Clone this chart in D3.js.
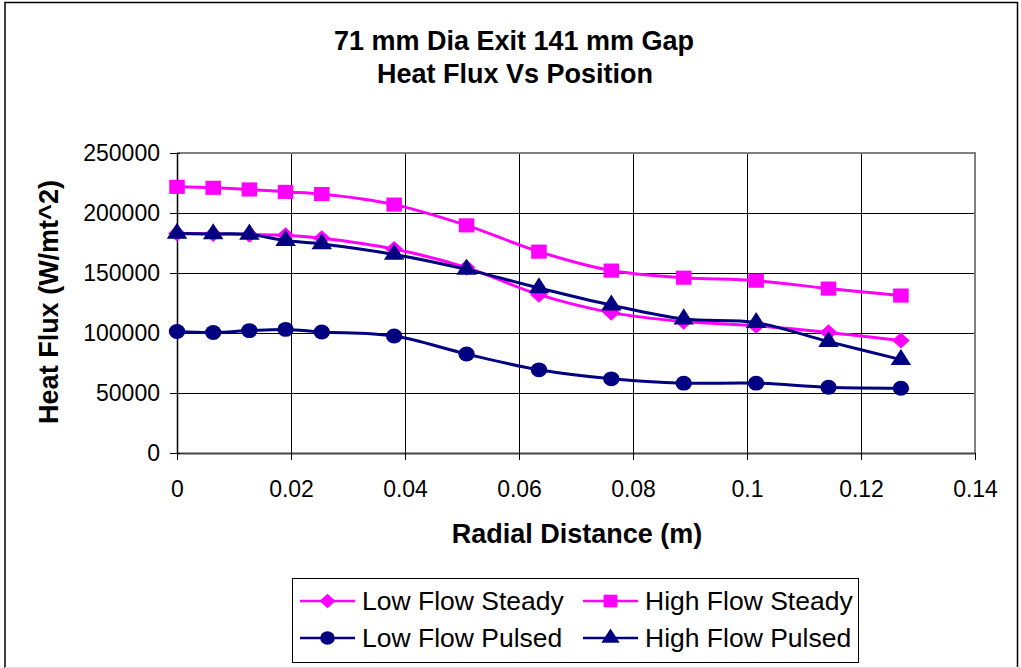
<!DOCTYPE html>
<html>
<head>
<meta charset="utf-8">
<script src="https://cdn.jsdelivr.net/npm/d3@7"></script>
<style>
  body { margin: 0; background: #fff; }
  svg { display: block; font-family: "Liberation Sans", Arial, sans-serif; }
</style>
</head>
<body>
<div id="chart"></div>
<script>
// chart data
const positions = [0, 0.00635, 0.0127, 0.01905, 0.0254, 0.0381, 0.0508, 0.0635, 0.0762, 0.0889, 0.1016, 0.1143, 0.127];
const lowFlowSteady = [183000, 182500, 182000, 181500, 179000, 170000, 154500, 132000, 117000, 109500, 106000, 100500, 93800];
const highFlowSteady = [221800, 221000, 219600, 217600, 215800, 207000, 189700, 167800, 152000, 146100, 143600, 137000, 131200];
const lowFlowPulsed = [101200, 100400, 102000, 103000, 100900, 97500, 82500, 69300, 61800, 58200, 58200, 54800, 54000];
const highFlowPulsed = [183000, 182600, 182200, 177000, 174200, 165500, 153000, 137500, 123200, 111600, 108600, 92800, 77800];
const xTicks = [0, 0.02, 0.04, 0.06, 0.08, 0.1, 0.12, 0.14];
const yTicks = [0, 50000, 100000, 150000, 200000, 250000];

const seriesNames = ['Low Flow Steady', 'High Flow Steady', 'Low Flow Pulsed', 'High Flow Pulsed'];
const seriesColors = ['#ff00ff', '#ff00ff', '#000080', '#000080'];
// diamond = square turned 45 degrees, like the Excel marker
const seriesShapes = [d3.symbolSquare, d3.symbolSquare, d3.symbolCircle, d3.symbolTriangle];
const seriesRotate = [45, 0, 0, 0];
const seriesSizes = [130, 200, 175, 150];
const seriesValues = [lowFlowSteady, highFlowSteady, lowFlowPulsed, highFlowPulsed];

const width = 1021;
const height = 668;

const svg = d3.select('#chart')
    .append('svg')
    .attr('width', width)
    .attr('height', height);

// chart border
svg.append('path')
    .attr('d', 'M5,700 V2.5 H1017.5 V700')
    .attr('fill', 'none')
    .attr('stroke', '#000')
    .attr('stroke-width', 1.5);
svg.append('line')
    .attr('x1', 5).attr('x2', width).attr('y1', 667.5).attr('y2', 667.5)
    .attr('stroke', '#e6e6e6');

// plot area
const plot = { left: 177, top: 153, right: 975, bottom: 453 };

const x = d3.scaleLinear().domain([0, 0.14]).range([plot.left, plot.right]);
const y = d3.scaleLinear().domain([0, 250000]).range([plot.bottom, plot.top]);

// gridlines
svg.append('g')
    .selectAll('line')
    .data(yTicks.slice(1))
    .enter()
    .append('line')
    .attr('x1', plot.left).attr('x2', plot.right)
    .attr('y1', d => Math.round(y(d)) + 0.5).attr('y2', d => Math.round(y(d)) + 0.5)
    .attr('stroke', '#000')
    .attr('stroke-width', 1);
svg.append('g')
    .selectAll('line')
    .data(xTicks.slice(1, -1))
    .enter()
    .append('line')
    .attr('y1', plot.top).attr('y2', plot.bottom)
    .attr('x1', d => Math.round(x(d)) + 0.5).attr('x2', d => Math.round(x(d)) + 0.5)
    .attr('stroke', '#000')
    .attr('stroke-width', 1);

// plot area border (top and right, gray)
svg.append('path')
    .attr('d', `M${plot.left},${plot.top} H${plot.right} V${plot.bottom}`)
    .attr('fill', 'none')
    .attr('stroke', '#808080')
    .attr('stroke-width', 2);

// axes
const xAxis = d3.axisBottom(x).tickValues(xTicks).tickFormat(d => d3.format('')(d)).tickSizeInner(7).tickSizeOuter(0).tickPadding(21);
const yAxis = d3.axisLeft(y).tickValues(yTicks).tickFormat(d3.format('')).tickSizeInner(7).tickSizeOuter(0).tickPadding(10);

const gx = svg.append('g')
    .attr('transform', `translate(0,${plot.bottom})`)
    .call(xAxis);
gx.select('.domain').attr('stroke', '#444').attr('stroke-width', 2);
gx.selectAll('.tick line').attr('stroke', '#000');
gx.selectAll('.tick text')
    .attr('font-size', 23)
    .attr('fill', '#000')
    .attr('font-family', '"Liberation Sans", Arial, sans-serif');

const gy = svg.append('g')
    .attr('transform', `translate(${plot.left},0)`)
    .call(yAxis);
gy.select('.domain').attr('stroke', '#000').attr('stroke-width', 1.5);
gy.selectAll('.tick line').attr('stroke', '#000').attr('x2', -7).attr('x1', 3);
gy.selectAll('.tick text')
    .attr('font-size', 23)
    .attr('fill', '#000')
    .attr('font-family', '"Liberation Sans", Arial, sans-serif');

// series lines and markers
const line = d3.line()
    .x(d => x(d[0]))
    .y(d => y(d[1]))
    .curve(d3.curveCatmullRom.alpha(0.5));

seriesNames.forEach((name, i) => {
    const pts = positions.map((p, j) => [p, seriesValues[i][j]]);
    const group = svg.append('g').attr('class', 'series');

    group.append('path')
        .datum(pts)
        .attr('d', line)
        .attr('fill', 'none')
        .attr('stroke', seriesColors[i])
        .attr('stroke-width', 3);

    group.selectAll('.marker')
        .data(pts)
        .enter()
        .append('path')
        .attr('class', 'marker')
        .attr('transform', d => `translate(${x(d[0])},${y(d[1])}) scale(1.1,1) rotate(${seriesRotate[i]})`)
        .attr('d', d3.symbol().type(seriesShapes[i]).size(seriesSizes[i]))
        .attr('fill', seriesColors[i]);
});

// titles
const title = svg.append('g').attr('font-weight', 'bold').attr('font-size', 27).attr('text-anchor', 'middle');
title.append('text').attr('x', 514).attr('y', 50).text('71 mm Dia Exit 141 mm Gap');
title.append('text').attr('x', 515).attr('y', 83).text('Heat Flux Vs Position');

svg.append('text')
    .attr('x', 577)
    .attr('y', 543)
    .attr('text-anchor', 'middle')
    .attr('font-weight', 'bold')
    .attr('font-size', 27)
    .text('Radial Distance (m)');

svg.append('text')
    .attr('transform', 'translate(58,302) rotate(-90)')
    .attr('text-anchor', 'middle')
    .attr('font-weight', 'bold')
    .attr('font-size', 27)
    .text('Heat Flux (W/mt^2)');

// legend
const legend = svg.append('g');
legend.append('rect')
    .attr('x', 292.5).attr('y', 578.5)
    .attr('width', 566).attr('height', 84)
    .attr('fill', '#fff')
    .attr('stroke', '#000')
    .attr('stroke-width', 1);

const legendCols = [300, 583];
const legendRows = [601, 638];

seriesNames.forEach((name, i) => {
    const lx = legendCols[i % 2];
    const ly = legendRows[Math.floor(i / 2)];
    const item = legend.append('g').attr('transform', `translate(${lx},${ly})`);
    item.append('line')
        .attr('x1', 0).attr('x2', 55)
        .attr('stroke', seriesColors[i])
        .attr('stroke-width', 2.5);
    item.append('path')
        .attr('transform', `translate(27.5,0) scale(1.1,1) rotate(${seriesRotate[i]})`)
        .attr('d', d3.symbol().type(seriesShapes[i]).size(seriesSizes[i] * 0.8))
        .attr('fill', seriesColors[i]);
    item.append('text')
        .attr('x', 62)
        .attr('y', 9)
        .attr('font-size', 26.5)
        .text(name);
});
</script>
</body>
</html>
